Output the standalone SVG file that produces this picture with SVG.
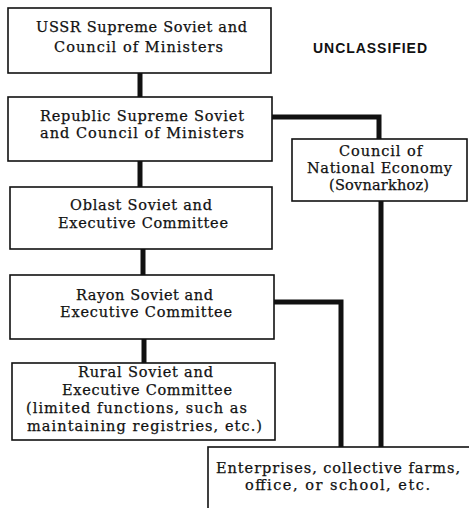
<svg xmlns="http://www.w3.org/2000/svg" width="469" height="508" viewBox="0 0 469 508">
<style>
.box{fill:#fff;stroke:#111;stroke-width:1.6}
.t{font-family:"DejaVu Serif","Liberation Serif",serif;font-size:14.5px;fill:#111;stroke:#111;stroke-width:0.25}
.c{fill:none;stroke:#111;stroke-width:5;stroke-linejoin:miter}
.u{font-family:"Liberation Sans",Arial,sans-serif;font-weight:bold;font-size:14px;fill:#111}
</style>
<rect width="469" height="508" fill="#fff"/>
<g id="connectors">
<path class="c" d="M140 72V98"/>
<path class="c" d="M140 160V188"/>
<path class="c" d="M143 248V276"/>
<path class="c" d="M144 338V363"/>
<path class="c" d="M271 117H379V140"/>
<path class="c" d="M381 200V448"/>
<path class="c" d="M273 302H341V448"/>
</g>
<g id="ussr">
<rect class="box" x="8" y="8" width="263" height="65"/>
<text class="t" x="36" y="32" textLength="211" lengthAdjust="spacing">USSR Supreme Soviet and</text>
<text class="t" x="54" y="52" textLength="169" lengthAdjust="spacing">Council of Ministers</text>
</g>
<g id="unclassified">
<text class="u" x="313" y="53" textLength="114" lengthAdjust="spacing">UNCLASSIFIED</text>
</g>
<g id="republic">
<rect class="box" x="8" y="97" width="264" height="64"/>
<text class="t" x="40" y="121" textLength="204" lengthAdjust="spacing">Republic Supreme Soviet</text>
<text class="t" x="40" y="138" textLength="204" lengthAdjust="spacing">and Council of Ministers</text>
</g>
<g id="council">
<rect class="box" x="292" y="139" width="175" height="62"/>
<text class="t" x="339" y="156" textLength="83" lengthAdjust="spacing">Council of</text>
<text class="t" x="307" y="173" textLength="145" lengthAdjust="spacing">National Economy</text>
<text class="t" x="329" y="190" textLength="100" lengthAdjust="spacing">(Sovnarkhoz)</text>
</g>
<g id="oblast">
<rect class="box" x="10" y="187" width="262" height="62"/>
<text class="t" x="70" y="210" textLength="142" lengthAdjust="spacing">Oblast Soviet and</text>
<text class="t" x="58" y="228" textLength="170" lengthAdjust="spacing">Executive Committee</text>
</g>
<g id="rayon">
<rect class="box" x="10" y="275" width="264" height="64"/>
<text class="t" x="76" y="300" textLength="137" lengthAdjust="spacing">Rayon Soviet and</text>
<text class="t" x="60" y="317" textLength="172" lengthAdjust="spacing">Executive Committee</text>
</g>
<g id="rural">
<rect class="box" x="12" y="363" width="263" height="77"/>
<text class="t" x="78" y="377" textLength="135" lengthAdjust="spacing">Rural Soviet and</text>
<text class="t" x="62" y="395" textLength="170" lengthAdjust="spacing">Executive Committee</text>
<text class="t" x="26" y="413" textLength="221" lengthAdjust="spacing">(limited functions, such as</text>
<text class="t" x="27" y="431" textLength="235" lengthAdjust="spacing">maintaining registries, etc.)</text>
</g>
<g id="enterprises">
<rect class="box" x="208" y="447" width="300" height="100"/>
<text class="t" x="216" y="473" textLength="244" lengthAdjust="spacing">Enterprises, collective farms,</text>
<text class="t" x="245" y="490" textLength="185" lengthAdjust="spacing">office, or school, etc.</text>
</g>
</svg>
